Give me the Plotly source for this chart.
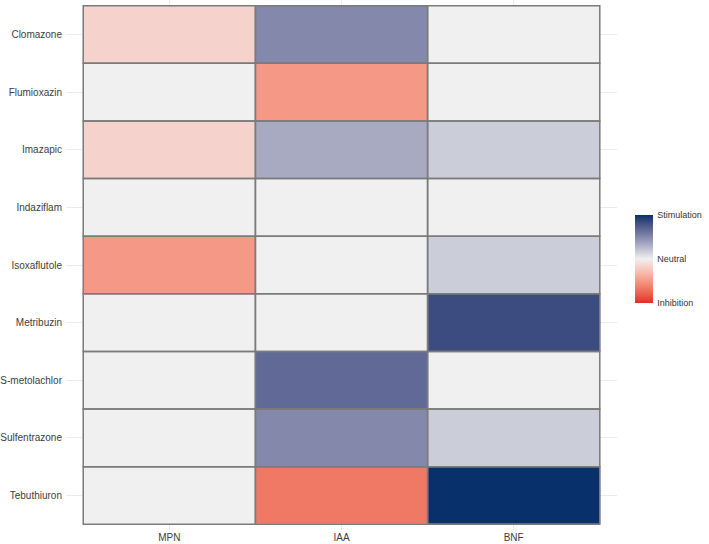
import plotly.graph_objects as go
import numpy as np

herbicides = ["Clomazone", "Flumioxazin", "Imazapic", "Indaziflam", "Isoxaflutole",
              "Metribuzin", "S-metolachlor", "Sulfentrazone", "Tebuthiuron"]
variables = ["MPN", "IAA", "BNF"]
mpn = [-1, 0, -1, 0, -3, 0, 0, 0, 0]
iaa = [3, -3, 2, 0, 0, 0, 4, 3, -4]
bnf = [0, 0, 1, 0, 1, 5, 0, 1, 6]
scale_labels = ["Inhibition", "Neutral", "Stimulation"]
scale_vals = [-6, 0, 6]

LOW, MID, HIGH = "#de2d26", "#f0f0f0", "#08306b"


def hex2rgb(h):
    h = h.lstrip("#")
    return [int(h[i:i + 2], 16) / 255 for i in (0, 2, 4)]


def rgb2lab(c):
    c = np.array(c)
    lin = np.where(c <= 0.04045, c / 12.92, ((c + 0.055) / 1.055) ** 2.4)
    M = np.array([[0.4124, 0.3576, 0.1805], [0.2126, 0.7152, 0.0722], [0.0193, 0.1192, 0.9505]])
    xyz = M @ lin / np.array([0.95047, 1.0, 1.08883])
    f = np.where(xyz > 0.008856, np.cbrt(xyz), 7.787 * xyz + 16 / 116)
    return np.array([116 * f[1] - 16, 500 * (f[0] - f[1]), 200 * (f[1] - f[2])])


def lab2hex(lab):
    L, a, b = lab
    fy = (L + 16) / 116
    fx = fy + a / 500
    fz = fy - b / 200
    f = np.array([fx, fy, fz])
    xyz = np.where(f ** 3 > 0.008856, f ** 3, (f - 16 / 116) / 7.787) * np.array([0.95047, 1.0, 1.08883])
    Minv = np.array([[3.2406, -1.5372, -0.4986], [-0.9689, 1.8758, 0.0415], [0.0557, -0.2040, 1.0570]])
    lin = Minv @ xyz
    lin = np.clip(lin, 0, 1)
    c = np.where(lin <= 0.0031308, 12.92 * lin, 1.055 * lin ** (1 / 2.4) - 0.055)
    c = np.clip(c, 0, 1)
    return "#%02x%02x%02x" % tuple(int(round(v * 255)) for v in c)


lab_low, lab_mid, lab_high = rgb2lab(hex2rgb(LOW)), rgb2lab(hex2rgb(MID)), rgb2lab(hex2rgb(HIGH))
colorscale = []
n = 24
for k in range(n + 1):
    t = k / n
    if t <= 0.5:
        s = t / 0.5
        lab = lab_low + (lab_mid - lab_low) * s
    else:
        s = (t - 0.5) / 0.5
        lab = lab_mid + (lab_high - lab_mid) * s
    colorscale.append([t, lab2hex(lab)])

z = [[mpn[i], iaa[i], bnf[i]] for i in range(len(herbicides))]

fig = go.Figure()
fig.add_trace(go.Heatmap(
    z=z, x=variables, y=herbicides, zmin=scale_vals[0], zmax=scale_vals[-1],
    colorscale=colorscale, hoverinfo="skip",
    colorbar=dict(
        xref="container", x=635 / 709, xanchor="left",
        yref="container", y=(544 - 266) / 544, yanchor="middle",
        lenmode="pixels", len=88, thickness=18, outlinewidth=0,
        tickvals=scale_vals, ticktext=scale_labels,
        ticks="outside", ticklen=3, tickcolor="rgba(0,0,0,0)",
        tickfont=dict(family="Liberation Sans, Arial, sans-serif", size=9, color="#333333"),
        ypad=0, xpad=0,
    ),
))

for i in range(len(herbicides)):
    for j in range(len(variables)):
        fig.add_shape(type="rect", xref="x", yref="y",
                      x0=j - 0.5, x1=j + 0.5, y0=i - 0.5, y1=i + 0.5,
                      line=dict(color="#7b7b7b", width=1.5), fillcolor="rgba(0,0,0,0)")

fig.update_layout(
    width=709, height=544,
    margin=dict(l=66, r=92, t=0, b=14, autoexpand=False),
    plot_bgcolor="white", paper_bgcolor="white",
    font=dict(family="Liberation Sans, Arial, sans-serif", size=10, color="#3d3d3d"),
)
fig.update_xaxes(range=[-0.6, len(variables) - 0.4], showgrid=True, gridcolor="#ebebeb", gridwidth=1,
                 zeroline=False, showline=False, ticks="", automargin=False,
                 tickfont=dict(size=10, color="#3d3d3d"))
fig.update_yaxes(range=[len(herbicides) - 0.4, -0.6], showgrid=True, gridcolor="#ebebeb", gridwidth=1,
                 zeroline=False, showline=False, ticks="", automargin=False,
                 ticklabelstandoff=3, tickfont=dict(size=10, color="#3d3d3d"))

fig.write_html("out.html")
